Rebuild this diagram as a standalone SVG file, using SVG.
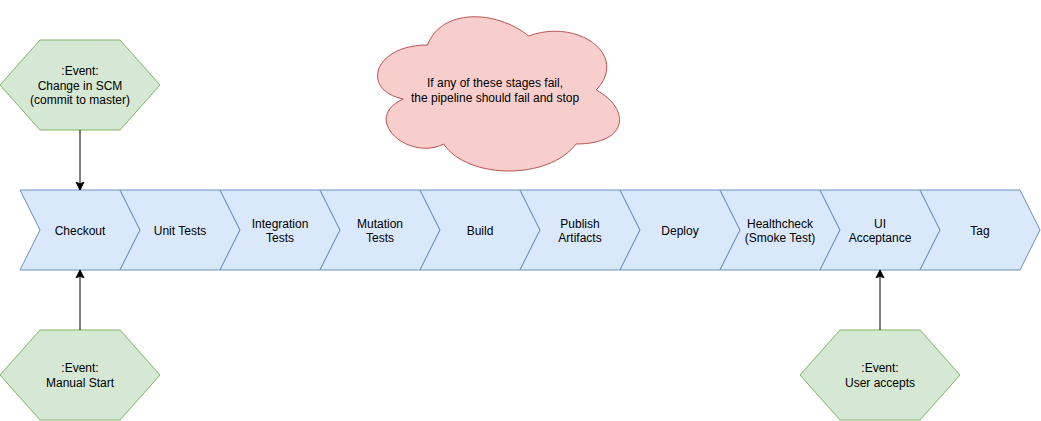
<svg xmlns="http://www.w3.org/2000/svg" width="1041" height="421" viewBox="0 0 1041 421">
<style>
.stage{fill:#dae8fc;stroke:#6c8ebf;stroke-width:1}
.event{fill:#d5e8d4;stroke:#82b366;stroke-width:1}
.cloud{fill:#f8cecc;stroke:#b85450;stroke-width:1}
.lbl{font-family:"Liberation Sans",Arial,Helvetica,sans-serif;font-size:12px;fill:#000;text-anchor:middle}
.conn{stroke:#000;stroke-width:1;fill:none;marker-end:url(#arrow)}
</style>
<defs>
<marker id="arrow" markerUnits="userSpaceOnUse" markerWidth="10" markerHeight="10" viewBox="-8 -5 10 10" refX="0" refY="0" orient="auto">
<path d="M0,0 L-8,-4 L-6,0 L-8,4 Z" fill="#000" stroke="#000" stroke-width="1"/>
</marker>
</defs>
<rect width="1041" height="421" fill="#ffffff"/>
<g id="cloud">
<path class="cloud" d="M427.5,45 C373.5,45 360,90 403.2,99 C360,118.8 408.6,162 443.7,144 C468,180 549,180 576,144 C630,144 630,108 596.25,90 C630,54 576,18 528.75,36 C495,9 441,9 427.5,45 Z"/>
<text class="lbl" x="495" y="86.5">If any of these stages fail,</text>
<text class="lbl" x="495" y="101.5">the pipeline should fail and stop</text>
</g>
<g id="stage-checkout">
<path class="stage" d="M20,190 L120,190 L140,230 L120,270 L20,270 L40,230 Z"/>
<text class="lbl" x="80" y="234.5">Checkout</text>
</g>
<g id="stage-unit">
<path class="stage" d="M120,190 L220,190 L240,230 L220,270 L120,270 L140,230 Z"/>
<text class="lbl" x="180" y="234.5">Unit Tests</text>
</g>
<g id="stage-integration">
<path class="stage" d="M220,190 L320,190 L340,230 L320,270 L220,270 L240,230 Z"/>
<text class="lbl" x="280" y="227.5">Integration</text>
<text class="lbl" x="280" y="242">Tests</text>
</g>
<g id="stage-mutation">
<path class="stage" d="M320,190 L420,190 L440,230 L420,270 L320,270 L340,230 Z"/>
<text class="lbl" x="380" y="227.5">Mutation</text>
<text class="lbl" x="380" y="242">Tests</text>
</g>
<g id="stage-build">
<path class="stage" d="M420,190 L520,190 L540,230 L520,270 L420,270 L440,230 Z"/>
<text class="lbl" x="480" y="234.5">Build</text>
</g>
<g id="stage-publish">
<path class="stage" d="M520,190 L620,190 L640,230 L620,270 L520,270 L540,230 Z"/>
<text class="lbl" x="580" y="227.5">Publish</text>
<text class="lbl" x="580" y="242">Artifacts</text>
</g>
<g id="stage-deploy">
<path class="stage" d="M620,190 L720,190 L740,230 L720,270 L620,270 L640,230 Z"/>
<text class="lbl" x="680" y="234.5">Deploy</text>
</g>
<g id="stage-healthcheck">
<path class="stage" d="M720,190 L820,190 L840,230 L820,270 L720,270 L740,230 Z"/>
<text class="lbl" x="780" y="227.5">Healthcheck</text>
<text class="lbl" x="780" y="242">(Smoke Test)</text>
</g>
<g id="stage-ui">
<path class="stage" d="M820,190 L920,190 L940,230 L920,270 L820,270 L840,230 Z"/>
<text class="lbl" x="880" y="227.5">UI</text>
<text class="lbl" x="880" y="242">Acceptance</text>
</g>
<g id="stage-tag">
<path class="stage" d="M920,190 L1020,190 L1040,230 L1020,270 L920,270 L940,230 Z"/>
<text class="lbl" x="980" y="234.5">Tag</text>
</g>
<g id="event-scm">
<path class="event" d="M40,40 L120,40 L160,85 L120,130 L40,130 L0,85 Z"/>
<text class="lbl" x="80" y="75">:Event:</text>
<text class="lbl" x="80" y="89.5">Change in SCM</text>
<text class="lbl" x="80" y="104">(commit to master)</text>
</g>
<g id="event-manual">
<path class="event" d="M40,330 L120,330 L160,375 L120,420 L40,420 L0,375 Z"/>
<text class="lbl" x="80" y="372">:Event:</text>
<text class="lbl" x="80" y="386.5">Manual Start</text>
</g>
<g id="event-user">
<path class="event" d="M840,330 L920,330 L960,375 L920,420 L840,420 L800,375 Z"/>
<text class="lbl" x="880" y="372">:Event:</text>
<text class="lbl" x="880" y="386.5">User accepts</text>
</g>
<g id="connectors">
<path class="conn" d="M80,130 L80,190"/>
<path class="conn" d="M80,330 L80,270"/>
<path class="conn" d="M880,330 L880,270"/>
</g>
</svg>
